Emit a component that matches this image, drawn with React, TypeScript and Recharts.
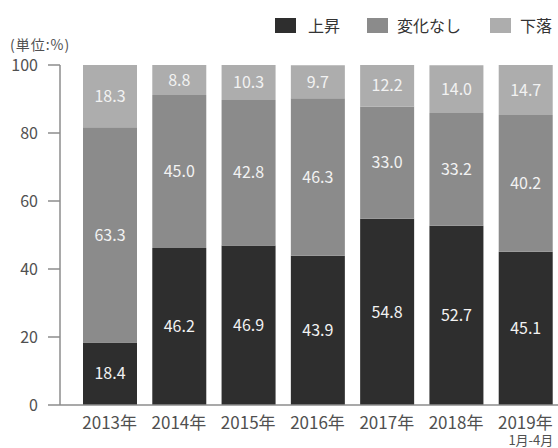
import React from 'react';
import { BarChart, Bar, XAxis, YAxis, LabelList, Legend } from 'recharts';

const categories = ['2013年', '2014年', '2015年', '2016年', '2017年', '2018年', '2019年\n1月-4月'];
const riseValues = [18.4, 46.2, 46.9, 43.9, 54.8, 52.7, 45.1];
const flatValues = [63.3, 45.0, 42.8, 46.3, 33.0, 33.2, 40.2];
const fallValues = [18.3, 8.8, 10.3, 9.7, 12.2, 14.0, 14.7];
const yTicks = [0, 20, 40, 60, 80, 100];
const seriesNames = ['上昇', '変化なし', '下落'];
const unitLabel = '(単位:%)';

const COLORS = ['#2e2e2e', '#8b8b8b', '#adadad'];
const FONT = '"Noto Sans CJK JP", "Noto Sans", sans-serif';

const data = categories.map((c, i) => ({
  name: c,
  rise: riseValues[i],
  flat: flatValues[i],
  fall: fallValues[i],
}));

const XTick = (props: any) => {
  const { x, y, payload } = props;
  const lines = String(payload.value).split('\n');
  return (
    <g>
      <text x={x} y={y + 16} textAnchor="middle" fill="#505050" fontSize={17} fontFamily={FONT}>
        {lines[0]}
      </text>
      {lines[1] && (
        <text x={x + 28} y={y + 32} textAnchor="end" fill="#505050" fontSize={13} fontFamily={FONT}>
          {lines[1]}
        </text>
      )}
    </g>
  );
};

const LegendContent = () => {
  const items = [
    { sq: 275, tx: 308 },
    { sq: 367, tx: 397 },
    { sq: 490, tx: 520 },
  ];
  return (
    <div style={{ position: 'relative', width: 558, height: 45, fontFamily: FONT }}>
      {items.map((it, i) => (
        <React.Fragment key={i}>
          <div
            style={{
              position: 'absolute',
              left: it.sq,
              top: 18,
              width: 21,
              height: 15,
              background: COLORS[i],
            }}
          />
          <div
            style={{
              position: 'absolute',
              left: it.tx,
              top: 13,
              fontSize: 16,
              lineHeight: '24px',
              color: '#333',
              whiteSpace: 'nowrap',
            }}
          >
            {seriesNames[i]}
          </div>
        </React.Fragment>
      ))}
    </div>
  );
};

const fmt = (v: any) => Number(v).toFixed(1);

export default function App() {
  return (
    <div style={{ position: 'absolute', left: 0, top: 0, width: 558, height: 448, overflow: 'hidden', background: '#fff' }}>
      <BarChart
        width={580}
        height={448}
        data={data}
        margin={{ top: 65, right: 20, bottom: 0, left: 0 }}
      >
        <text x={10} y={50} fontSize={14} letterSpacing={1} fill="#505050" fontFamily={FONT}>
          {unitLabel}
        </text>
        <Legend
          layout="horizontal"
          verticalAlign="middle"
          align="center"
          content={<LegendContent />}
          wrapperStyle={{ top: 0, left: 0, width: 558, height: 45 }}
        />
        <XAxis
          dataKey="name"
          tickLine={false}
          axisLine={{ stroke: '#8c8c8c', strokeWidth: 1.5 }}
          padding={{ left: 15, right: 0 }}
          interval={0}
          height={43}
          tick={<XTick />}
        />
        <YAxis
          width={60}
          domain={[0, 100]}
          ticks={yTicks}
          tickSize={12}
          tickMargin={10}
          axisLine={{ stroke: '#8c8c8c', strokeWidth: 1.5 }}
          tickLine={{ stroke: '#8c8c8c', strokeWidth: 1.5 }}
          tick={{ fill: '#505050', fontSize: 16, fontFamily: FONT }}
        />
        <Bar dataKey="rise" stackId="a" fill={COLORS[0]} barSize={54} isAnimationActive={false}>
          <LabelList dataKey="rise" position="center" formatter={fmt} fill="#f2f2f2" fontSize={16} fontFamily={FONT} />
        </Bar>
        <Bar dataKey="flat" stackId="a" fill={COLORS[1]} barSize={54} isAnimationActive={false}>
          <LabelList dataKey="flat" position="center" formatter={fmt} fill="#f2f2f2" fontSize={16} fontFamily={FONT} />
        </Bar>
        <Bar dataKey="fall" stackId="a" fill={COLORS[2]} barSize={54} isAnimationActive={false}>
          <LabelList dataKey="fall" position="center" formatter={fmt} fill="#f2f2f2" fontSize={16} fontFamily={FONT} />
        </Bar>
      </BarChart>
    </div>
  );
}
